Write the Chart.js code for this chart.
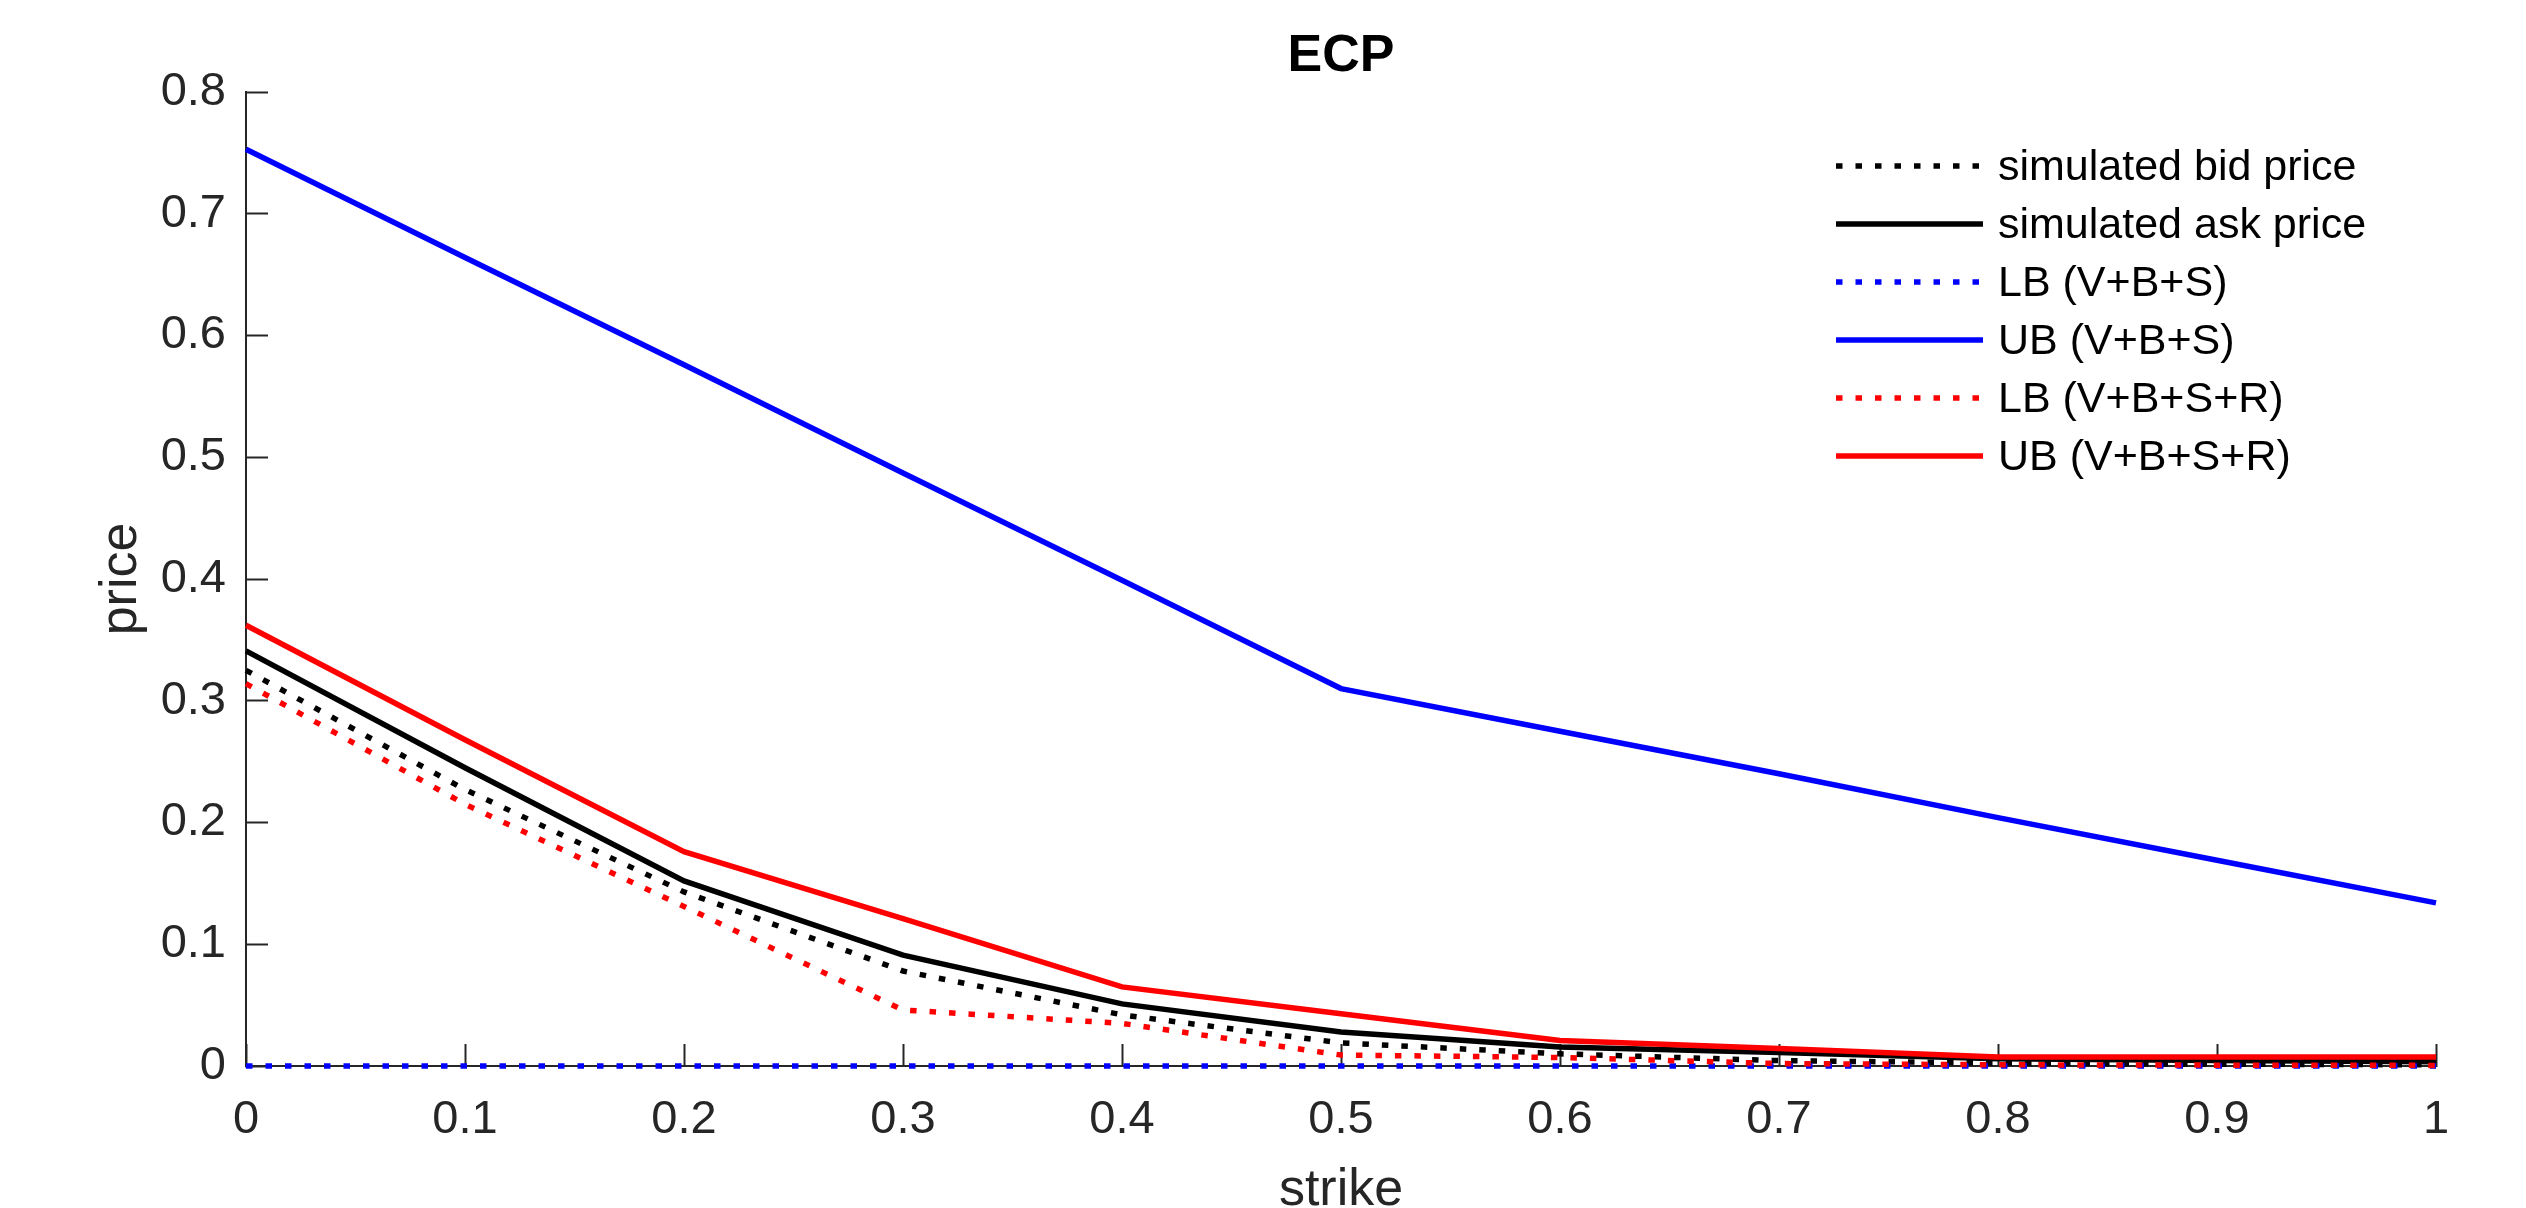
<!DOCTYPE html>
<html>
<head>
<meta charset="utf-8">
<title>ECP</title>
<script src="https://cdn.jsdelivr.net/npm/chart.js@4.4.1/dist/chart.umd.min.js"></script>
<style>
  html, body { margin: 0; padding: 0; background: #fff; }
  #wrap { width: 2526px; height: 1208px; }
</style>
</head>
<body>
<div id="wrap"><canvas id="ecpChart" width="2526" height="1208"></canvas></div>
<script>
// strike grid
const strikes = [0, 0.1, 0.2, 0.3, 0.4, 0.5, 0.6, 0.7, 0.8, 0.9, 1];

// series
const bidPrice = [0.325, 0.227, 0.143, 0.078, 0.042, 0.019, 0.010, 0.0044, 0.0025, 0.0015, 0.001];
const askPrice = [0.341, 0.245, 0.152, 0.091, 0.051, 0.028, 0.0156, 0.011, 0.006, 0.0045, 0.0035];
const lbVBS = [0, 0, 0, 0, 0, 0, 0, 0, 0, 0, 0];
const ubVBS = [0.753, 0.664, 0.576, 0.487, 0.399, 0.310, 0.275, 0.240, 0.204, 0.169, 0.134];
const lbVBSR = [0.314, 0.215, 0.131, 0.046, 0.035, 0.009, 0.007, 0.002, 0.001, 0.0007, 0.0005];
const ubVBSR = [0.362, 0.268, 0.176, 0.121, 0.065, 0.043, 0.021, 0.0144, 0.0074, 0.0074, 0.0074];

const seriesLabels = ['simulated bid price', 'simulated ask price', 'LB (V+B+S)', 'UB (V+B+S)', 'LB (V+B+S+R)', 'UB (V+B+S+R)'];

// tick labels
const xTickLabels = ['0', '0.1', '0.2', '0.3', '0.4', '0.5', '0.6', '0.7', '0.8', '0.9', '1'];
const yTickLabels = ['0', '0.1', '0.2', '0.3', '0.4', '0.5', '0.6', '0.7', '0.8'];

const FONT = '"Liberation Sans", Arial, Helvetica, sans-serif';
const AXIS_COLOR = '#262626';
const DOTS = [6.5, 13];

function toPoints(values) {
    return strikes.map((s, i) => ({ x: s, y: values[i] }));
}

function makeSet(label, values, color, dotted, idx) {
    return {
        label: label,
        data: toPoints(values),
        borderColor: color,
        backgroundColor: color,
        borderWidth: 5.5,
        borderDash: dotted ? DOTS : [],
        borderCapStyle: 'butt',
        pointRadius: 0,
        pointHoverRadius: 0,
        tension: 0,
        fill: false,
        clip: false,
        order: 10 - idx   // last series on top, like the original
    };
}

// legend drawn inside the axes, top right
const insideLegend = {
    id: 'insideLegend',
    afterDatasetsDraw(chart) {
        const ctx = chart.ctx;
        ctx.save();
        ctx.font = '43px ' + FONT;
        ctx.textBaseline = 'middle';
        ctx.textAlign = 'left';
        chart.data.datasets.forEach((ds, i) => {
            const y = 166 + i * 58;
            ctx.beginPath();
            ctx.setLineDash(ds.borderDash);
            ctx.lineWidth = ds.borderWidth;
            ctx.strokeStyle = ds.borderColor;
            ctx.lineCap = 'butt';
            ctx.moveTo(1836, y);
            ctx.lineTo(1983, y);
            ctx.stroke();
            ctx.setLineDash([]);
            ctx.fillStyle = '#000';
            ctx.fillText(ds.label, 1998, y + 2);
        });
        ctx.restore();
    }
};

function createChart() {
    const ctx = document.getElementById('ecpChart').getContext('2d');
    new Chart(ctx, {
        type: 'line',
        data: {
            datasets: [
                makeSet(seriesLabels[0], bidPrice, '#000000', true, 0),
                makeSet(seriesLabels[1], askPrice, '#000000', false, 1),
                makeSet(seriesLabels[2], lbVBS, '#0000ff', true, 2),
                makeSet(seriesLabels[3], ubVBS, '#0000ff', false, 3),
                makeSet(seriesLabels[4], lbVBSR, '#ff0000', true, 4),
                makeSet(seriesLabels[5], ubVBSR, '#ff0000', false, 5)
            ]
        },
        options: {
            responsive: false,
            animation: false,
            devicePixelRatio: 1,
            layout: { padding: { left: 0, right: 90, top: 0, bottom: 0 } },
            plugins: {
                legend: { display: false },
                tooltip: { enabled: false },
                title: {
                    display: true,
                    text: 'ECP',
                    color: '#000',
                    fullSize: false,
                    font: { family: FONT, size: 52, weight: 'bold', lineHeight: 1.2 },
                    padding: { top: 25, bottom: 4.6 }
                }
            },
            scales: {
                x: {
                    type: 'linear',
                    min: 0,
                    max: 1,
                    afterFit(scale) { scale.height = 142; },
                    grid: {
                        drawOnChartArea: false,
                        drawTicks: true,
                        tickLength: -22,
                        tickColor: AXIS_COLOR,
                        tickWidth: 2
                    },
                    border: { display: true, color: AXIS_COLOR, width: 2 },
                    ticks: {
                        stepSize: 0.1,
                        autoSkip: false,
                        maxRotation: 0,
                        padding: 48,
                        color: AXIS_COLOR,
                        font: { family: FONT, size: 47 },
                        callback: (v, i) => xTickLabels[i]
                    },
                    title: {
                        display: true,
                        text: 'strike',
                        color: AXIS_COLOR,
                        font: { family: FONT, size: 52, lineHeight: 1.2 },
                        padding: { top: 0, bottom: -14 }
                    }
                },
                y: {
                    type: 'linear',
                    min: 0,
                    max: 0.8,
                    afterFit(scale) { scale.width = 246; },
                    grid: {
                        drawOnChartArea: false,
                        drawTicks: true,
                        tickLength: -22,
                        tickColor: AXIS_COLOR,
                        tickWidth: 2
                    },
                    border: { display: true, color: AXIS_COLOR, width: 2 },
                    ticks: {
                        stepSize: 0.1,
                        padding: 42,
                        color: AXIS_COLOR,
                        font: { family: FONT, size: 47 },
                        callback: (v, i) => yTickLabels[i]
                    },
                    title: {
                        display: true,
                        text: 'price',
                        color: AXIS_COLOR,
                        font: { family: FONT, size: 52, lineHeight: 1.2 },
                        padding: { top: 90, bottom: 0 }
                    }
                }
            }
        },
        plugins: [insideLegend]
    });
}

window.onload = createChart;
</script>
</body>
</html>
